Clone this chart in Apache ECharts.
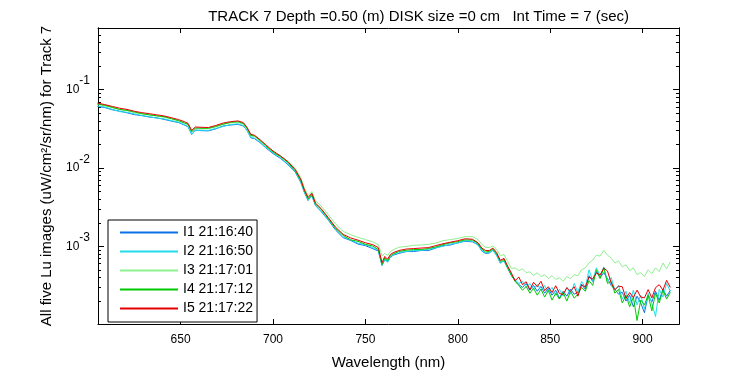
<!DOCTYPE html>
<html>
<head>
<meta charset="utf-8">
<script src="https://cdn.jsdelivr.net/npm/echarts@6/dist/echarts.min.js"></script>
<style>
  html, body { margin: 0; padding: 0; background: #fff; }
  #main { width: 750px; height: 375px; }
</style>
</head>
<body>
<div id="main"></div>
<script>
// wavelength (nm)
var wl = [605, 609, 613, 617, 621, 625, 629, 633, 637, 641, 645, 649, 652, 654, 656, 658, 661, 665, 669, 673,
  677, 681, 684, 686, 688, 690, 693, 696, 700, 704, 708, 712, 715, 717, 719, 721, 723, 726, 730, 734,
  738, 742, 746, 750, 754, 757, 759, 760.5, 762, 763.5, 765, 768, 772, 776, 780, 784, 788, 792, 796, 800,
  804, 808, 811, 813, 815, 817, 819, 821, 823, 825, 827, 829,
  831, 833, 835, 837, 839, 841, 843, 845, 847, 849, 851, 853, 855, 857, 859, 861, 863, 865, 867, 869,
  871, 873, 875, 877, 879, 881, 883, 885, 887, 889, 891, 893, 895, 897, 899, 901, 903, 905, 907, 909,
  911, 913, 915];

var i1 = [0.0611, 0.0591, 0.0554, 0.0532, 0.0507, 0.0480, 0.0467, 0.0447, 0.0438, 0.0418, 0.0397, 0.0380, 0.0354, 0.0337, 0.0269, 0.0306, 0.0300, 0.0298, 0.0316, 0.0344,
  0.0354, 0.0361, 0.0344, 0.0302, 0.0243, 0.0237, 0.0211, 0.0182, 0.0153, 0.0133, 0.0111, 0.00891, 0.00659, 0.00487, 0.00385, 0.00444, 0.00331, 0.00279, 0.00215, 0.00160,
  0.00129, 0.00119, 0.00107, 0.00102, 0.000935, 0.000872, 0.000569, 0.000682, 0.000635, 0.000723, 0.000770, 0.000811, 0.000858, 0.000858, 0.000884, 0.000883, 0.000949, 0.00102, 0.00104, 0.00111,
  0.00116, 0.00114, 0.00105, 0.000871, 0.000811, 0.000822, 0.000897, 0.000777, 0.000617, 0.000653, 0.000527, 0.000425,
  0.000366, 0.000326, 0.000299, 0.000336, 0.000275, 0.000317, 0.000267, 0.000308, 0.000252, 0.000291, 0.000238, 0.000275, 0.000218, 0.000267, 0.000231, 0.000283, 0.000245, 0.000259, 0.000326, 0.000283,
  0.000423, 0.000356, 0.000474, 0.000399, 0.000461, 0.000388, 0.000317, 0.000283, 0.000245, 0.000259, 0.000200, 0.000238, 0.000169, 0.000231, 0.000189, 0.000142, 0.000238, 0.000195, 0.000267, 0.000206,
  0.000283, 0.000231, 0.000275];

var i2 = [0.0619, 0.0600, 0.0561, 0.0525, 0.0514, 0.0493, 0.0467, 0.0453, 0.0433, 0.0424, 0.0403, 0.0385, 0.0359, 0.0341, 0.0269, 0.0302, 0.0304, 0.0302, 0.0320, 0.0339,
  0.0359, 0.0366, 0.0348, 0.0298, 0.0247, 0.0240, 0.0214, 0.0185, 0.0156, 0.0135, 0.0113, 0.00904, 0.00669, 0.00495, 0.00391, 0.00450, 0.00336, 0.00283, 0.00218, 0.00164,
  0.00132, 0.00121, 0.00110, 0.00105, 0.000963, 0.000896, 0.000577, 0.000692, 0.000626, 0.000733, 0.000782, 0.000834, 0.000858, 0.000884, 0.000884, 0.000909, 0.000963, 0.00100, 0.00107, 0.00110,
  0.00118, 0.00116, 0.00103, 0.000884, 0.000822, 0.000834, 0.000884, 0.000766, 0.000608, 0.000663, 0.000519, 0.000431,
  0.000377, 0.000336, 0.000356, 0.000299, 0.000336, 0.000283, 0.000326, 0.000275, 0.000317, 0.000259, 0.000299, 0.000238, 0.000283, 0.000231, 0.000299, 0.000245, 0.000336, 0.000259, 0.000356, 0.000299,
  0.000502, 0.000366, 0.000532, 0.000423, 0.000547, 0.000356, 0.000399, 0.000275, 0.000317, 0.000212, 0.000267, 0.000189, 0.000275, 0.000179, 0.000238, 0.000159, 0.000252, 0.000189, 0.000127, 0.000283,
  0.000225, 0.000336, 0.000267];

var i3 = [0.0647, 0.0622, 0.0586, 0.0556, 0.0540, 0.0508, 0.0488, 0.0477, 0.0458, 0.0443, 0.0424, 0.0397, 0.0375, 0.0359, 0.0289, 0.0320, 0.0317, 0.0317, 0.0334, 0.0359,
  0.0377, 0.0382, 0.0364, 0.0317, 0.0258, 0.0253, 0.0224, 0.0195, 0.0163, 0.0143, 0.0122, 0.00987, 0.00755, 0.00555, 0.00445, 0.00501, 0.00381, 0.00328, 0.00252, 0.00191,
  0.00155, 0.00141, 0.00130, 0.00122, 0.00114, 0.00105, 0.000760, 0.000811, 0.000765, 0.000859, 0.000903, 0.000972, 0.000997, 0.00103, 0.00104, 0.00106, 0.00110, 0.00118, 0.00122, 0.00126,
  0.00133, 0.00133, 0.00122, 0.00106, 0.000972, 0.000964, 0.00101, 0.000919, 0.000762, 0.000786, 0.000642, 0.000520,
  0.000532, 0.000488, 0.000517, 0.000461, 0.000474, 0.000423, 0.000461, 0.000411, 0.000435, 0.000388, 0.000423, 0.000377, 0.000399, 0.000356, 0.000411, 0.000388, 0.000435, 0.000423, 0.000502, 0.000532,
  0.000614, 0.000669, 0.000772, 0.000750, 0.000892, 0.000772, 0.000709, 0.000614, 0.000650, 0.000547, 0.000580, 0.000488, 0.000532, 0.000435, 0.000461, 0.000411, 0.000502, 0.000448, 0.000532, 0.000474,
  0.000614, 0.000517, 0.000632];

var i4 = [0.0656, 0.0632, 0.0595, 0.0560, 0.0544, 0.0519, 0.0495, 0.0477, 0.0465, 0.0453, 0.0427, 0.0402, 0.0377, 0.0362, 0.0290, 0.0325, 0.0322, 0.0322, 0.0339, 0.0364,
  0.0383, 0.0391, 0.0369, 0.0320, 0.0260, 0.0257, 0.0224, 0.0192, 0.0160, 0.0140, 0.0118, 0.00924, 0.00699, 0.00514, 0.00403, 0.00464, 0.00346, 0.00298, 0.00225, 0.00168,
  0.00138, 0.00121, 0.00116, 0.00106, 0.00101, 0.000909, 0.000585, 0.000715, 0.000650, 0.000760, 0.000800, 0.000859, 0.000891, 0.000910, 0.000910, 0.000936, 0.000984, 0.00105, 0.00111, 0.00115,
  0.00121, 0.00120, 0.00108, 0.000923, 0.000847, 0.000859, 0.000923, 0.000806, 0.000644, 0.000682, 0.000535, 0.000431,
  0.000356, 0.000317, 0.000275, 0.000308, 0.000252, 0.000291, 0.000238, 0.000283, 0.000225, 0.000275, 0.000206, 0.000252, 0.000212, 0.000259, 0.000200, 0.000267, 0.000218, 0.000245, 0.000299, 0.000267,
  0.000366, 0.000317, 0.000502, 0.000388, 0.000532, 0.000336, 0.000356, 0.000252, 0.000283, 0.000189, 0.000238, 0.000169, 0.000225, 0.000113, 0.000206, 0.000179, 0.000238, 0.000150, 0.000252, 0.000189,
  0.000275, 0.000212, 0.000259];

var i5 = [0.0675, 0.0645, 0.0612, 0.0580, 0.0560, 0.0530, 0.0509, 0.0494, 0.0478, 0.0462, 0.0439, 0.0414, 0.0391, 0.0372, 0.0302, 0.0334, 0.0331, 0.0329, 0.0349, 0.0375,
  0.0391, 0.0399, 0.0380, 0.0329, 0.0269, 0.0262, 0.0230, 0.0199, 0.0165, 0.0143, 0.0121, 0.00958, 0.00719, 0.00524, 0.00420, 0.00477, 0.00356, 0.00304, 0.00231, 0.00174,
  0.00142, 0.00128, 0.00120, 0.00111, 0.00105, 0.000963, 0.000620, 0.000744, 0.000683, 0.000788, 0.000828, 0.000884, 0.000923, 0.000936, 0.000950, 0.000963, 0.00102, 0.00108, 0.00113, 0.00118,
  0.00125, 0.00123, 0.00111, 0.000950, 0.000884, 0.000884, 0.000950, 0.000835, 0.000663, 0.000702, 0.000558, 0.000457,
  0.000363, 0.000407, 0.000324, 0.000353, 0.000280, 0.000348, 0.000305, 0.000358, 0.000272, 0.000305, 0.000257, 0.000314, 0.000250, 0.000243, 0.000297, 0.000267, 0.000305, 0.000231, 0.000324, 0.000301,
  0.000404, 0.000384, 0.000457, 0.000431, 0.000527, 0.000484, 0.000343, 0.000280, 0.000310, 0.000305, 0.000216, 0.000257, 0.000223, 0.000276, 0.000225, 0.000220, 0.000280, 0.000220, 0.000297, 0.000324,
  0.000276, 0.000368, 0.000299];

var names = ['I1 21:16:40', 'I2 21:16:50', 'I3 21:17:01', 'I4 21:17:12', 'I5 21:17:22'];
var colors = ['#0a72e6', '#22dcea', '#8ef08e', '#00c800', '#e60000'];

var xTicks = [650, 700, 750, 800, 850, 900];
var yTicks = [0.001, 0.01, 0.1];
var yMinor = [0.0002, 0.0003, 0.0004, 0.0005, 0.0006, 0.0007, 0.0008, 0.0009,
  0.002, 0.003, 0.004, 0.005, 0.006, 0.007, 0.008, 0.009,
  0.02, 0.03, 0.04, 0.05, 0.06, 0.07, 0.08, 0.09,
  0.2, 0.3, 0.4, 0.5, 0.6];

var xMin = 605.3, xMax = 919.7;
var yMin = 1.02e-4, yMax = 0.613;
var font = 'Liberation Sans, Arial, sans-serif';

var chart = echarts.init(document.getElementById('main'));

var allY = [i1, i2, i3, i4, i5];
var series = [];
for (var s = 0; s < allY.length; s++) {
  var pts = [];
  for (var k = 0; k < wl.length; k++) {
    pts.push([wl[k], allY[s][k]]);
  }
  series.push({
    name: names[s],
    type: 'line',
    data: pts,
    symbol: 'none',
    showSymbol: false,
    xAxisIndex: 0,
    yAxisIndex: 0,
    lineStyle: { width: 1, color: colors[s] },
    itemStyle: { color: colors[s] },
    emphasis: { disabled: true }
  });
}

// y axis builder: major / minor ticks, left or right
function yAx(pos, ticks, len, labels) {
  return {
    type: 'log',
    logBase: 10,
    position: pos,
    min: yMin,
    max: yMax,
    axisLine: { show: true, lineStyle: { color: '#000', width: 1 } },
    axisTick: { show: true, inside: true, length: len, customValues: ticks, lineStyle: { color: '#000' } },
    axisLabel: labels ? {
      show: true,
      customValues: yTicks,
      margin: 8,
      formatter: function (v) {
        return '{b|10}{s|' + Math.round(Math.log10(v)) + '}';
      },
      rich: {
        b: { fontFamily: font, fontSize: 12, color: '#000', verticalAlign: 'middle' },
        s: { fontFamily: font, fontSize: 12, color: '#000', verticalAlign: 'middle', padding: [0, 0, 17, 0] }
      }
    } : { show: false },
    splitLine: { show: false },
    minorTick: { show: false }
  };
}

var yLeft = yAx('left', yTicks, 6, true);
yLeft.name = 'All five Lu images (uW/cm\u00b2/sr/nm) for Track 7';
yLeft.nameLocation = 'middle';
yLeft.nameGap = 44;
yLeft.nameTextStyle = { fontFamily: font, fontSize: 15, color: '#000' };

var option = {
  animation: false,
  backgroundColor: '#fff',
  title: {
    text: 'TRACK 7 Depth =0.50 (m) DISK size =0 cm   Int Time = 7 (sec)',
    right: 116,
    top: 4,
    textStyle: { fontFamily: font, fontSize: 15, fontWeight: 'normal', color: '#000' }
  },
  grid: { left: 98, right: 71, top: 28, bottom: 44, containLabel: false },
  legend: {
    orient: 'vertical',
    left: 108,
    top: 220,
    data: names,
    itemWidth: 58,
    itemHeight: 15,
    itemGap: 4,
    padding: [5, 4, 6, 11],
    backgroundColor: '#fff',
    borderColor: '#000',
    borderWidth: 1,
    borderRadius: 0,
    selectedMode: false,
    itemStyle: { opacity: 0 },
    lineStyle: { width: 2 },
    textStyle: { fontFamily: font, fontSize: 14, color: '#000', lineHeight: 15 }
  },
  xAxis: [{
    type: 'value',
    position: 'bottom',
    min: xMin,
    max: xMax,
    axisLine: { lineStyle: { color: '#000', width: 1 } },
    axisTick: { inside: true, length: 5, customValues: xTicks, lineStyle: { color: '#000' } },
    axisLabel: { customValues: xTicks, margin: 10, fontFamily: font, fontSize: 12, color: '#000' },
    splitLine: { show: false },
    name: 'Wavelength (nm)',
    nameLocation: 'middle',
    nameGap: 31,
    nameTextStyle: { fontFamily: font, fontSize: 15, color: '#000' }
  }, {
    type: 'value',
    position: 'top',
    min: xMin,
    max: xMax,
    axisLine: { lineStyle: { color: '#000', width: 1 } },
    axisTick: { inside: true, length: 5, customValues: xTicks, lineStyle: { color: '#000' } },
    axisLabel: { show: false },
    splitLine: { show: false }
  }],
  yAxis: [
    yLeft,
    yAx('left', yMinor, 3, false),
    yAx('right', yTicks, 6, false),
    yAx('right', yMinor, 3, false)
  ],
  series: series
};

chart.setOption(option);
</script>
</body>
</html>
